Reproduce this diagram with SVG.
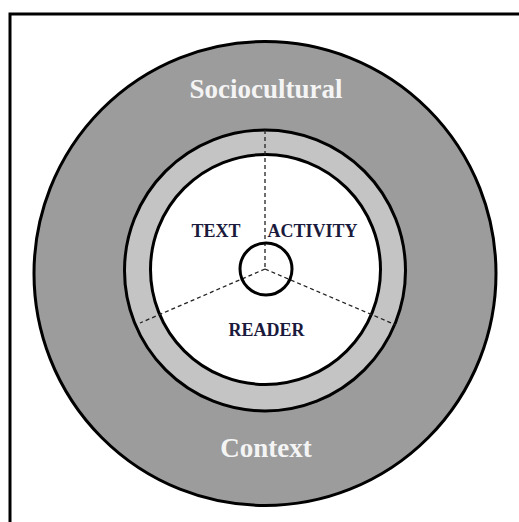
<svg xmlns="http://www.w3.org/2000/svg" width="519" height="522" viewBox="0 0 519 522">
<style>
.ring{stroke:#000;stroke-width:3}
.lbl{font-family:"Liberation Serif","Times New Roman",serif;font-weight:bold;text-anchor:middle}
.big{font-size:27px;fill:#f4f4f4}
.small{font-size:18px;fill:#1a1a3c}
.dash{stroke:#222;stroke-width:1.3;stroke-dasharray:4 3;fill:none}
</style>
<rect width="519" height="522" fill="#fff"/>
<path d="M10,522 V14 H519" fill="none" stroke="#000" stroke-width="3"/>
<g id="sociocultural-context">
<ellipse cx="265" cy="273.5" rx="231" ry="232" fill="#9c9c9c" class="ring"/>
<text class="lbl big" x="266" y="98">Sociocultural</text>
<text class="lbl big" x="266" y="457">Context</text>
</g>
<g id="middle-ring">
<circle cx="265" cy="270.5" r="140.5" fill="#c4c4c4" class="ring"/>
</g>
<g id="inner">
<circle cx="265.5" cy="269.5" r="115" fill="#fff" class="ring"/>
</g>
<g id="connectors">
<path class="dash" d="M265,130 V269"/>
<path class="dash" d="M265,269 L140,323"/>
<path class="dash" d="M265,269 L396,325"/>
</g>
<g id="center">
<circle cx="266" cy="269" r="26" fill="none" class="ring"/>
</g>
<g id="text-label"><text class="lbl small" x="216" y="237">TEXT</text></g>
<g id="activity-label"><text class="lbl small" x="312.5" y="237">ACTIVITY</text></g>
<g id="reader-label"><text class="lbl small" x="266.5" y="336">READER</text></g>
</svg>
